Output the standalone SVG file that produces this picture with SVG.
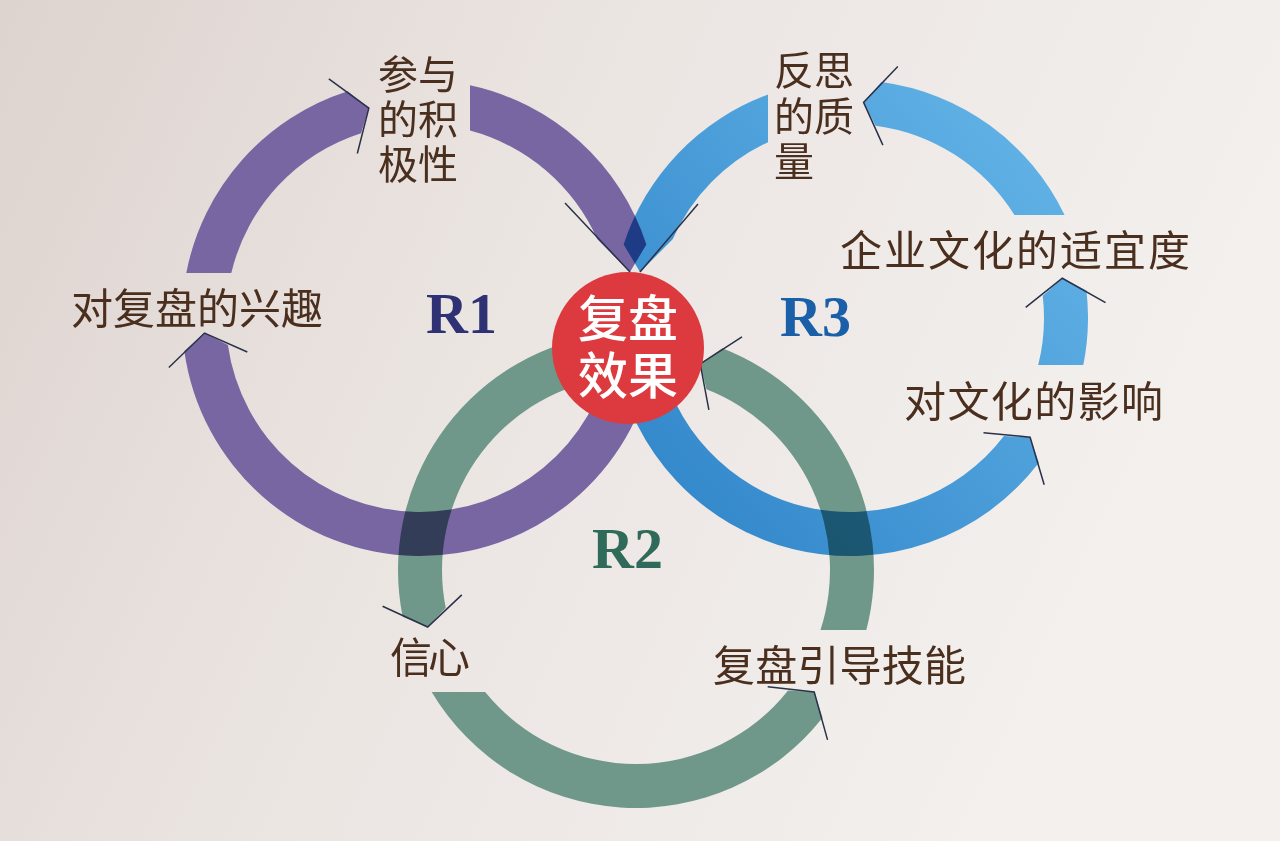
<svg xmlns="http://www.w3.org/2000/svg" width="1280" height="841" viewBox="0 0 1280 841">
<defs>
  <linearGradient id="paper" x1="0" y1="0" x2="1" y2="0.3">
    <stop offset="0" stop-color="#ddd3cf"/>
    <stop offset="0.45" stop-color="#ebe5e2"/>
    <stop offset="1" stop-color="#f3f0ee"/>
  </linearGradient>
  <linearGradient id="blueGrad" gradientUnits="userSpaceOnUse" x1="650" y1="480" x2="1060" y2="120">
    <stop offset="0" stop-color="#3388cb"/>
    <stop offset="1" stop-color="#64b4e7"/>
  </linearGradient>
</defs>
<style>
  .band{mix-blend-mode:multiply}
  .r1{fill:#7766a1}
  .r2{fill:#6f988b}
  .r3{fill:url(#blueGrad)}
  .wing{fill:none;stroke:#2a3148;stroke-width:1.5;stroke-linejoin:miter}
  .lbl{font-family:"Liberation Sans","Noto Sans CJK SC",sans-serif;font-size:42px;fill:#4a2f1e;dominant-baseline:central}
  .stack{font-size:40px}
  .loop{font-family:"Liberation Serif","Times New Roman",serif;font-weight:bold;font-size:58px}
  .ctr{font-family:"Liberation Sans","Noto Sans CJK SC",sans-serif;font-size:50px;font-weight:500;fill:#ffffff;text-anchor:middle;dominant-baseline:central}
</style>

<rect width="1280" height="841" fill="url(#paper)"/>

<g id="connectors">
  <g id="bands" style="isolation:isolate">
    <g id="loop-r1">
      <path class="band r1" d="M654.38,359.33 A238,238 0 0 1 184.30,351.03 L204.53,333.07 L227.88,344.93 A194,194 0 0 0 611.05,351.69 Z"/>
      <path class="band r1" d="M186.29,273 A238,238 0 0 1 347.72,91.24 L368.84,108.15 L361.09,133.16 A194,194 0 0 0 231.29,273 Z"/>
      <path class="band r1" d="M470,85.31 A238,238 0 0 1 646.35,244.45 L630,272 L597.32,239.32 A194,194 0 0 0 470,130.55 Z"/>
    </g>
    <g id="loop-r3">
      <path class="band r3" d="M615.62,359.33 A238,238 0 0 0 1038.86,462.83 L1030.12,437.22 L1003.94,436.05 A194,194 0 0 1 658.95,351.69 Z"/>
      <path class="band r3" d="M1083.31,365 A238,238 0 0 0 1086.41,290.56 L1062.32,278.27 L1042.71,295.64 A194,194 0 0 1 1038.22,365 Z"/>
      <path class="band r3" d="M1064.56,215 A238,238 0 0 0 881.38,82.08 L863.56,102.43 L875.58,125.69 A194,194 0 0 1 1014.40,215 Z"/>
      <path class="band r3" d="M768,94.57 A238,238 0 0 0 623.65,244.45 L640,272 L672.68,239.32 A194,194 0 0 1 768,142.18 Z"/>
    </g>
    <g id="loop-r2">
      <path class="band r2" d="M594.67,335.62 A238,238 0 0 0 402.63,616.72 L427.66,627 L445.78,608.08 A194,194 0 0 1 602.31,378.95 Z"/>
      <path class="band r2" d="M431.65,692 A238,238 0 0 0 822.55,717.79 L814.22,692.03 L788.06,690.47 A194,194 0 0 1 485.16,692 Z"/>
      <path class="band r2" d="M866.31,630 A238,238 0 0 0 722.38,348.23 L700.23,363.77 L706.41,389.23 A194,194 0 0 1 820.49,630 Z"/>
    </g>
  </g>
  <g id="arrowheads">
    <polyline class="wing" points="168.84,367.55 204.53,333.07 247.32,352.06"/>
    <polyline class="wing" points="328.84,78.78 368.84,108.15 357.33,153.54"/>
    <polyline class="wing" points="565,203 630,272"/>
    <polyline class="wing" points="983.50,432.69 1030.12,437.22 1044.18,484.82"/>
    <polyline class="wing" points="1025.68,307.44 1062.32,278.27 1105.54,302.64"/>
    <polyline class="wing" points="897.79,66.50 863.56,102.43 882.86,145.09"/>
    <polyline class="wing" points="698,204 640,272"/>
    <polyline class="wing" points="382.58,606.25 427.66,627 461.77,594.92"/>
    <polyline class="wing" points="767.69,686.76 814.22,692.03 827.55,739.83"/>
    <polyline class="wing" points="741.99,336.97 700.23,363.77 708.87,409.79"/>
  </g>
</g>

<g id="node-center">
  <circle cx="628" cy="348" r="76" fill="#dc3a3f"/>
  <text class="ctr" x="628" y="320">复盘</text>
  <text class="ctr" x="628" y="377">效果</text>
</g>

<g id="node-participation">
  <text class="lbl stack" x="378" y="75">参与<tspan x="378" dy="45">的积</tspan><tspan x="378" dy="45">极性</tspan></text>
</g>
<g id="node-interest">
  <text class="lbl" x="71" y="309" textLength="252" lengthAdjust="spacing">对复盘的兴趣</text>
</g>
<g id="node-reflection">
  <text class="lbl stack" x="774" y="71">反思<tspan x="774" dy="46">的质</tspan><tspan x="774" dy="45">量</tspan></text>
</g>
<g id="node-fit">
  <text class="lbl" x="840" y="251" textLength="350" lengthAdjust="spacing">企业文化的适宜度</text>
</g>
<g id="node-culture">
  <text class="lbl" x="904" y="402" textLength="259" lengthAdjust="spacing">对文化的影响</text>
</g>
<g id="node-confidence">
  <text class="lbl" x="390" y="658" textLength="80" lengthAdjust="spacing">信心</text>
</g>
<g id="node-skill">
  <text class="lbl" x="713" y="666" textLength="253" lengthAdjust="spacing">复盘引导技能</text>
</g>

<g id="loop-labels">
  <text class="loop" x="426" y="333" fill="#2e3275">R1</text>
  <text class="loop" x="592" y="568" fill="#2f6a5a">R2</text>
  <text class="loop" x="780" y="336" fill="#1a5fa8">R3</text>
</g>
</svg>
